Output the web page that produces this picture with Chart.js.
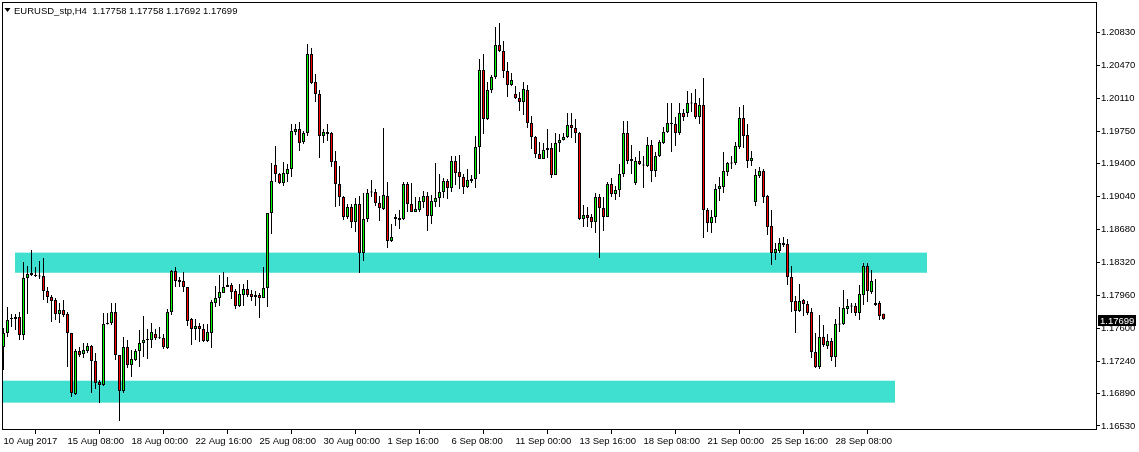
<!DOCTYPE html>
<html>
<head>
<meta charset="utf-8">
<title>EURUSD_stp,H4</title>
<script src="https://cdn.jsdelivr.net/npm/chart.js@4/dist/chart.umd.min.js"></script>
<style>
    html, body { margin: 0; padding: 0; background: #ffffff; }
    canvas { display: block; }
</style>
</head>
<body>
<canvas id="chart-eurusd" width="1139" height="452"></canvas>
<script>
// EURUSD H4 candles, 10 Aug 2017 16:00 .. 29 Sep 2017 08:00 (one entry per bar)

const SYMBOL = 'EURUSD_stp,H4';

const OPEN = [
    1.17393, 1.17546, 1.17700, 1.17700, 1.17721, 1.17524, 1.18148, 1.18180, 1.18180, 1.18169,
    1.18169, 1.18006, 1.17940, 1.17907, 1.17754, 1.17798, 1.17754, 1.17546, 1.16880, 1.17350,
    1.17317, 1.17350, 1.17404, 1.17241, 1.17011, 1.16978, 1.17645, 1.17656, 1.17776, 1.17306,
    1.16913, 1.17393, 1.17197, 1.17252, 1.17350, 1.17437, 1.17470, 1.17470, 1.17535, 1.17492,
    1.17492, 1.17383, 1.17776, 1.18224, 1.18126, 1.18115, 1.18049, 1.17700, 1.17590, 1.17623,
    1.17590, 1.17459, 1.17546, 1.17874, 1.17929, 1.17984, 1.18049, 1.18071, 1.18006, 1.17841,
    1.17962, 1.18028, 1.17973, 1.17962, 1.17962, 1.17929, 1.18038, 1.18858, 1.19383, 1.19285,
    1.19186, 1.19285, 1.19340, 1.19744, 1.19777, 1.19635, 1.19733, 1.20596, 1.20290, 1.20159,
    1.19700, 1.19744, 1.19733, 1.19427, 1.19175, 1.19034, 1.18815, 1.18924, 1.18760, 1.18957,
    1.18421, 1.18793, 1.19088, 1.19088, 1.18968, 1.18902, 1.19045, 1.18552, 1.18815, 1.18804,
    1.18793, 1.19175, 1.18957, 1.18869, 1.18891, 1.18979, 1.19045, 1.18826, 1.18979, 1.19023,
    1.19088, 1.19208, 1.19132, 1.19427, 1.19307, 1.19252, 1.19143, 1.19208, 1.19230, 1.19580,
    1.20422, 1.19886, 1.20203, 1.20345, 1.20695, 1.20629, 1.20411, 1.20258, 1.20159, 1.20116,
    1.20072, 1.20203, 1.19842, 1.19689, 1.19503, 1.19449, 1.19547, 1.19569, 1.19274, 1.19624,
    1.19657, 1.19689, 1.19820, 1.19788, 1.19733, 1.18793, 1.18837, 1.18815, 1.18760, 1.19034,
    1.18913, 1.18815, 1.19175, 1.19066, 1.19110, 1.19285, 1.19733, 1.19449, 1.19186, 1.19427,
    1.19383, 1.19372, 1.19602, 1.19318, 1.19481, 1.19624, 1.19744, 1.19831, 1.19831, 1.19733,
    1.19951, 1.19951, 1.20061, 1.20061, 1.19908, 1.20039, 1.18891, 1.18749, 1.18815, 1.19121,
    1.19143, 1.19307, 1.19405, 1.19405, 1.19580, 1.19897, 1.19711, 1.19427, 1.18979, 1.19263,
    1.19318, 1.19045, 1.18716, 1.18421, 1.18443, 1.18530, 1.18520, 1.18158, 1.17896, 1.17787,
    1.17907, 1.17863, 1.17776, 1.17339, 1.17175, 1.17502, 1.17404, 1.17459, 1.17284, 1.17645,
    1.17645, 1.17809, 1.17835, 1.17841, 1.17765, 1.17962, 1.18279, 1.17995, 1.17874, 1.17874,
    1.17758
];

const HIGH = [
    1.17602, 1.17830, 1.17754, 1.17754, 1.17776, 1.18323, 1.18279, 1.18454, 1.18268, 1.18334,
    1.18367, 1.18049, 1.17962, 1.17929, 1.17874, 1.17907, 1.17776, 1.17546, 1.17372, 1.17393,
    1.17437, 1.17437, 1.17415, 1.17328, 1.17033, 1.17765, 1.17765, 1.17874, 1.17874, 1.17306,
    1.17502, 1.17470, 1.17361, 1.17372, 1.17579, 1.17732, 1.17590, 1.17656, 1.17590, 1.17612,
    1.17535, 1.17809, 1.18235, 1.18268, 1.18158, 1.18213, 1.18049, 1.17711, 1.17700, 1.17656,
    1.17645, 1.17645, 1.17907, 1.18060, 1.18180, 1.18213, 1.18158, 1.18093, 1.18028, 1.18082,
    1.18082, 1.18126, 1.18017, 1.18006, 1.17984, 1.18268, 1.18858, 1.19405, 1.19591, 1.19296,
    1.19416, 1.19394, 1.19831, 1.19831, 1.19853, 1.19755, 1.20706, 1.20662, 1.20378, 1.20203,
    1.19777, 1.19831, 1.19744, 1.19536, 1.19372, 1.19045, 1.18957, 1.18957, 1.19023, 1.19045,
    1.19077, 1.19121, 1.19219, 1.19121, 1.19045, 1.19788, 1.19197, 1.18738, 1.18847, 1.18891,
    1.19197, 1.19197, 1.19186, 1.19034, 1.19034, 1.19099, 1.19088, 1.19056, 1.19405, 1.19285,
    1.19241, 1.19230, 1.19481, 1.19481, 1.19492, 1.19285, 1.19340, 1.19274, 1.19700, 1.20542,
    1.20596, 1.20290, 1.20367, 1.20892, 1.20936, 1.20739, 1.20509, 1.20389, 1.20247, 1.20181,
    1.20290, 1.20258, 1.19919, 1.19700, 1.19635, 1.19624, 1.19777, 1.19624, 1.19733, 1.19722,
    1.19733, 1.19951, 1.19951, 1.19886, 1.19744, 1.18946, 1.18924, 1.18847, 1.19077, 1.19066,
    1.19034, 1.19197, 1.19241, 1.19154, 1.19394, 1.19864, 1.19864, 1.19602, 1.19471, 1.19536,
    1.19481, 1.19689, 1.19657, 1.19525, 1.19657, 1.19799, 1.20061, 1.20061, 1.19908, 1.20061,
    1.19995, 1.20192, 1.20170, 1.20214, 1.20116, 1.20334, 1.18913, 1.18891, 1.19175, 1.19252,
    1.19525, 1.19416, 1.19481, 1.19635, 1.20017, 1.20039, 1.19831, 1.19536, 1.19340, 1.19361,
    1.19340, 1.19056, 1.18891, 1.18530, 1.18585, 1.18596, 1.18574, 1.18279, 1.17951, 1.18082,
    1.17918, 1.17896, 1.17820, 1.17546, 1.17743, 1.17634, 1.17535, 1.17492, 1.17700, 1.17830,
    1.18017, 1.17918, 1.17874, 1.17874, 1.18071, 1.18312, 1.18312, 1.18235, 1.18137, 1.17896,
    1.17758
];

const LOW = [
    1.17142, 1.17502, 1.17612, 1.17579, 1.17470, 1.17470, 1.17754, 1.18170, 1.18158, 1.18137,
    1.17907, 1.17874, 1.17667, 1.17689, 1.17656, 1.17721, 1.17175, 1.16847, 1.16869, 1.17284,
    1.17273, 1.17328, 1.16891, 1.16935, 1.16781, 1.16967, 1.17640, 1.17634, 1.17252, 1.16585,
    1.16891, 1.17164, 1.17066, 1.17241, 1.17175, 1.17284, 1.17263, 1.17383, 1.17470, 1.17481,
    1.17372, 1.17372, 1.17743, 1.18049, 1.18049, 1.17995, 1.17623, 1.17415, 1.17470, 1.17448,
    1.17448, 1.17448, 1.17383, 1.17830, 1.17841, 1.17984, 1.18049, 1.17918, 1.17809, 1.17830,
    1.17841, 1.17940, 1.17896, 1.17841, 1.17711, 1.17929, 1.17830, 1.18629, 1.19197, 1.19175,
    1.19154, 1.19197, 1.19252, 1.19711, 1.19536, 1.19613, 1.19700, 1.20268, 1.20072, 1.19460,
    1.19624, 1.19646, 1.19361, 1.18924, 1.18935, 1.18782, 1.18793, 1.18695, 1.18651, 1.18202,
    1.18334, 1.18760, 1.19034, 1.18935, 1.18771, 1.18891, 1.18476, 1.18541, 1.18716, 1.18684,
    1.18782, 1.18869, 1.18869, 1.18869, 1.18869, 1.18913, 1.18662, 1.18738, 1.18924, 1.18924,
    1.19023, 1.19012, 1.19088, 1.19164, 1.19121, 1.19066, 1.19132, 1.19186, 1.19132, 1.19285,
    1.19722, 1.19875, 1.20170, 1.20323, 1.20618, 1.20334, 1.20127, 1.20247, 1.20105, 1.19973,
    1.19930, 1.19788, 1.19558, 1.19460, 1.19449, 1.19449, 1.19460, 1.19241, 1.19274, 1.19525,
    1.19650, 1.19678, 1.19678, 1.19624, 1.18782, 1.18706, 1.18706, 1.18695, 1.18640, 1.18367,
    1.18662, 1.18815, 1.19034, 1.19001, 1.19034, 1.19252, 1.19394, 1.19285, 1.19164, 1.19383,
    1.19132, 1.19361, 1.19197, 1.19252, 1.19471, 1.19613, 1.19733, 1.19525, 1.19591, 1.19711,
    1.19864, 1.19908, 1.19962, 1.19886, 1.19831, 1.18585, 1.18651, 1.18640, 1.18749, 1.18990,
    1.19077, 1.19263, 1.19340, 1.19383, 1.19558, 1.19569, 1.19350, 1.19372, 1.18935, 1.19241,
    1.18968, 1.18618, 1.18290, 1.18345, 1.18421, 1.18487, 1.18071, 1.17776, 1.17546, 1.17776,
    1.17732, 1.17743, 1.17273, 1.17164, 1.17153, 1.17393, 1.17372, 1.17241, 1.17175, 1.17557,
    1.17634, 1.17754, 1.17765, 1.17732, 1.17689, 1.17852, 1.17885, 1.17973, 1.17841, 1.17689,
    1.17692
];

const CLOSE = [
    1.17546, 1.17689, 1.17705, 1.17721, 1.17524, 1.18148, 1.18191, 1.18202, 1.18169, 1.18165,
    1.18006, 1.17940, 1.17896, 1.17754, 1.17798, 1.17743, 1.17546, 1.16891, 1.17350, 1.17306,
    1.17361, 1.17404, 1.17241, 1.17000, 1.16978, 1.17645, 1.17650, 1.17776, 1.17306, 1.16913,
    1.17393, 1.17197, 1.17263, 1.17350, 1.17437, 1.17470, 1.17475, 1.17557, 1.17492, 1.17488,
    1.17393, 1.17776, 1.18224, 1.18115, 1.18104, 1.18049, 1.17678, 1.17590, 1.17623, 1.17590,
    1.17459, 1.17557, 1.17885, 1.17929, 1.17995, 1.18049, 1.18071, 1.17995, 1.17841, 1.17973,
    1.18028, 1.17962, 1.17940, 1.17940, 1.17929, 1.18038, 1.18858, 1.19208, 1.19285, 1.19186,
    1.19296, 1.19340, 1.19755, 1.19777, 1.19624, 1.19733, 1.20596, 1.20279, 1.20159, 1.19700,
    1.19744, 1.19722, 1.19416, 1.19175, 1.19034, 1.18815, 1.18924, 1.18760, 1.18957, 1.18421,
    1.18793, 1.19077, 1.19083, 1.18968, 1.18913, 1.19056, 1.18552, 1.18596, 1.18793, 1.18782,
    1.19175, 1.18957, 1.18869, 1.18902, 1.18990, 1.19045, 1.18826, 1.18990, 1.19023, 1.19088,
    1.19208, 1.19132, 1.19427, 1.19296, 1.19252, 1.19143, 1.19219, 1.19230, 1.19580, 1.20422,
    1.19886, 1.20203, 1.20345, 1.20695, 1.20629, 1.20411, 1.20258, 1.20312, 1.20116, 1.20072,
    1.20214, 1.19842, 1.19689, 1.19503, 1.19449, 1.19547, 1.19569, 1.19274, 1.19624, 1.19657,
    1.19689, 1.19820, 1.19788, 1.19733, 1.18793, 1.18837, 1.18804, 1.18760, 1.19034, 1.18913,
    1.18815, 1.19175, 1.19066, 1.19110, 1.19285, 1.19733, 1.19427, 1.19427, 1.19427, 1.19394,
    1.19378, 1.19602, 1.19318, 1.19481, 1.19635, 1.19744, 1.19842, 1.19836, 1.19733, 1.19951,
    1.19908, 1.20061, 1.20056, 1.19908, 1.20039, 1.18891, 1.18749, 1.18815, 1.19121, 1.19154,
    1.19318, 1.19405, 1.19400, 1.19591, 1.19897, 1.19700, 1.19427, 1.19460, 1.19274, 1.19318,
    1.19034, 1.18706, 1.18421, 1.18465, 1.18530, 1.18509, 1.18158, 1.17885, 1.17787, 1.17896,
    1.17863, 1.17765, 1.17339, 1.17175, 1.17502, 1.17415, 1.17459, 1.17284, 1.17645, 1.17640,
    1.17820, 1.17841, 1.17841, 1.17765, 1.17973, 1.18279, 1.18006, 1.18115, 1.17852, 1.17732,
    1.17699
];

// bar index of each time label on the bottom axis
const DATE_TICKS = [0, 16, 32, 48, 64, 80, 96, 112, 128, 144, 160, 176, 192, 208];
const DATE_LABELS = [
    '10 Aug 2017', '15 Aug 08:00', '18 Aug 00:00', '22 Aug 16:00', '25 Aug 08:00',
    '30 Aug 00:00', '1 Sep 16:00', '6 Sep 08:00', '11 Sep 00:00', '13 Sep 16:00',
    '18 Sep 08:00', '21 Sep 00:00', '25 Sep 16:00', '28 Sep 08:00'
];

const PRICE_TICKS = [
    1.20830, 1.20470, 1.20110, 1.19750, 1.19400, 1.19040, 1.18680,
    1.18320, 1.17960, 1.17600, 1.17240, 1.16890, 1.16530
];

// the two rectangle objects drawn on the chart (bar index from/to, price top/bottom)
const ZONE_FROM = [3, 0];
const ZONE_TO = [231, 223];
const ZONE_TOP = [1.18425, 1.17025];
const ZONE_BOTTOM = [1.18205, 1.16785];

const COLORS = {
    up: '#00ff00',
    down: '#ff0000',
    edge: '#000000',
    zone: '#40e0d0',
};

const FONT = { family: '"Liberation Sans", Arial, sans-serif', size: 9.5 };

Chart.defaults.font.family = FONT.family;
Chart.defaults.font.size = FONT.size;
Chart.defaults.color = '#000000';

// --- Rectangles behind the candles ---
const zonesPlugin = {
    id: 'zones',
    beforeDatasetsDraw(chart) {
        const { ctx, chartArea, scales: { x, y } } = chart;
        ctx.save();
        ctx.beginPath();
        ctx.rect(chartArea.left, chartArea.top, chartArea.width, chartArea.height);
        ctx.clip();
        ctx.fillStyle = COLORS.zone;
        ZONE_FROM.forEach((from, k) => {
            const left = Math.floor(x.getPixelForValue(from));
            const right = Math.floor(x.getPixelForValue(ZONE_TO[k]));
            const top = y.getPixelForValue(ZONE_TOP[k]);
            const bottom = y.getPixelForValue(ZONE_BOTTOM[k]);
            ctx.fillRect(left, top, right - left, bottom - top);
        });
        ctx.restore();
    }
};

// --- Frame, header line and last price marker ---
const terminalPlugin = {
    id: 'terminal',
    afterDraw(chart) {
        const { ctx, chartArea, scales: { y } } = chart;
        ctx.save();
        ctx.strokeStyle = COLORS.edge;
        ctx.lineWidth = 1;
        ctx.strokeRect(chartArea.left + 0.5, chartArea.top - 0.5,
            chartArea.right - chartArea.left, chartArea.bottom - chartArea.top);

        const last = CLOSE.length - 1;
        ctx.fillStyle = '#000';
        ctx.beginPath();
        ctx.moveTo(4.5, 8);
        ctx.lineTo(10.5, 8);
        ctx.lineTo(7.5, 12);
        ctx.closePath();
        ctx.fill();
        ctx.font = `${FONT.size}px ${FONT.family}`;
        ctx.textBaseline = 'alphabetic';
        ctx.textAlign = 'left';
        const head = [OPEN[last], HIGH[last], LOW[last], CLOSE[last]].map(v => v.toFixed(5)).join(' ');
        ctx.fillText(`${SYMBOL}  ${head}`, 14, 14);

        const py = Math.round(y.getPixelForValue(CLOSE[last]));
        ctx.fillStyle = '#000';
        ctx.fillRect(chartArea.right + 2, py - 4, 38, 11);
        ctx.fillStyle = '#fff';
        ctx.fillText(CLOSE[last].toFixed(5), chartArea.right + 4, py + 5);
        ctx.restore();
    }
};

// --- Candles as two layers of floating bars ---
const bodies = OPEN.map((o, i) => ({ x: i, y: [o, CLOSE[i]] }));
const wicks = LOW.map((l, i) => ({ x: i, y: [l, HIGH[i]] }));
const bodyColors = OPEN.map((o, i) => (CLOSE[i] >= o ? COLORS.up : COLORS.down));

new Chart(document.getElementById('chart-eurusd'), {
    type: 'bar',
    data: {
        datasets: [
            {
                label: 'Body',
                data: bodies,
                backgroundColor: bodyColors,
                borderColor: COLORS.edge,
                borderWidth: 1,
                borderSkipped: false,
                minBarLength: 1,
                inflateAmount: 0,
                grouped: false,
                categoryPercentage: 1,
                barPercentage: 1,
                maxBarThickness: 3,
            },
            {
                label: 'Wick',
                data: wicks,
                backgroundColor: COLORS.edge,
                borderWidth: 0,
                minBarLength: 1,
                inflateAmount: 0,
                grouped: false,
                categoryPercentage: 1,
                barPercentage: 1,
                maxBarThickness: 1,
            }
        ]
    },
    options: {
        responsive: false,
        animation: false,
        events: [],
        layout: { padding: { left: 2, top: 3, right: 0, bottom: 0 } },
        plugins: {
            legend: { display: false },
            tooltip: { enabled: false },
            title: { display: false }
        },
        scales: {
            x: {
                type: 'linear',
                min: -0.375,
                max: 273.125,
                offset: false,
                afterBuildTicks: scale => { scale.ticks = DATE_TICKS.map(v => ({ value: v })); },
                afterFit: scale => { scale.height = 22; scale.paddingLeft = 0; scale.paddingRight = 0; },
                grid: { drawOnChartArea: false, drawTicks: true, tickLength: 4, color: COLORS.edge },
                border: { display: false },
                ticks: {
                    align: 'start',
                    padding: 2,
                    maxRotation: 0,
                    autoSkip: false,
                    color: '#000',
                    font: FONT,
                    callback: (v, i) => DATE_LABELS[i]
                }
            },
            y: {
                type: 'linear',
                position: 'right',
                min: 1.16486,
                max: 1.21154,
                afterBuildTicks: scale => { scale.ticks = PRICE_TICKS.map(v => ({ value: v })); },
                afterFit: scale => { scale.width = 43; scale.paddingTop = 0; scale.paddingBottom = 0; },
                grid: { drawOnChartArea: false, drawTicks: true, tickLength: 4, color: COLORS.edge },
                border: { display: false },
                ticks: {
                    padding: 1,
                    color: '#000',
                    font: FONT,
                    callback: v => v.toFixed(5)
                }
            }
        }
    },
    plugins: [zonesPlugin, terminalPlugin]
});
</script>
</body>
</html>
